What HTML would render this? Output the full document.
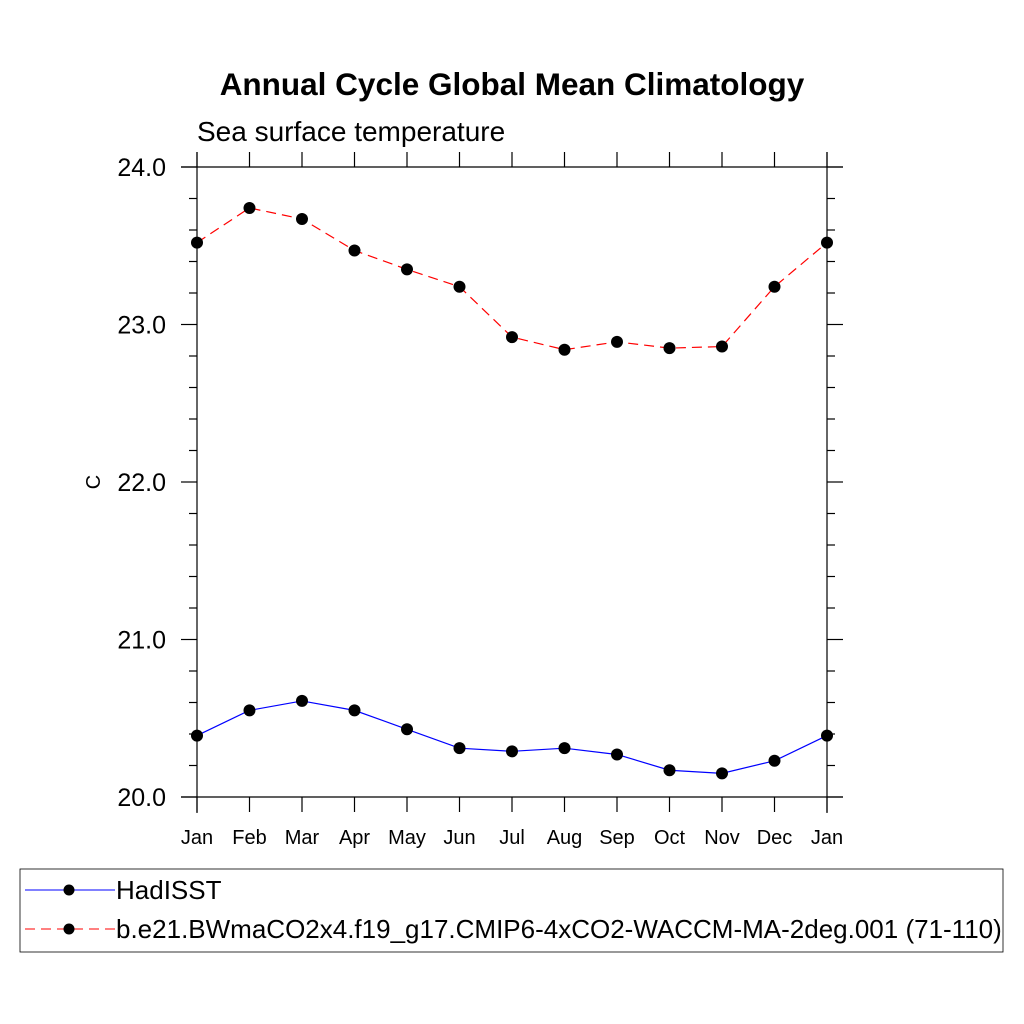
<!DOCTYPE html>
<html><head><meta charset="utf-8"><style>
body{margin:0;background:#fff}
svg{display:block;font-family:"Liberation Sans",sans-serif}
</style></head><body>
<svg id="chart" width="1024" height="1024">
<text x="512" y="95" text-anchor="middle" font-size="31.5" font-weight="bold">Annual Cycle Global Mean Climatology</text>
<text x="197" y="141" font-size="28">Sea surface temperature</text>
<text transform="translate(100,482) rotate(-90)" text-anchor="middle" font-size="20">C</text>
<g id="axes"></g>
<g id="series"></g>
<rect x="20" y="869" width="983" height="83" fill="none" stroke="#000" stroke-width="0.8"/>
<g>
<line x1="25" y1="890" x2="115" y2="890" stroke="#00f" stroke-width="1"/>
<circle cx="69" cy="890" r="5.5" fill="#000"/>
<text x="116" y="899" font-size="26">HadISST</text></g>
<g>
<line x1="25" y1="929" x2="115" y2="929" stroke="#f00" stroke-width="1" stroke-dasharray="10,6"/>
<circle cx="69" cy="929" r="5.5" fill="#000"/>
<text x="116" y="938" font-size="26">b.e21.BWmaCO2x4.f19_g17.CMIP6-4xCO2-WACCM-MA-2deg.001 (71-110)</text></g>
</svg>
<script>
const months=["Jan","Feb","Mar","Apr","May","Jun","Jul","Aug","Sep","Oct","Nov","Dec","Jan"];
const hadisst=[20.39,20.55,20.61,20.55,20.43,20.31,20.29,20.31,20.27,20.17,20.15,20.23,20.39];
const model=[23.52,23.74,23.67,23.47,23.35,23.24,22.92,22.84,22.89,22.85,22.86,23.24,23.52];
const yTicks=[20.0,21.0,22.0,23.0,24.0];
const X0=197,X1=827,Y0=797,Y1=167,YMIN=20,YMAX=24;
const xs=i=>X0+(X1-X0)*i/(months.length-1);
const ys=v=>Y0-(v-YMIN)/(YMAX-YMIN)*(Y0-Y1);
const NS="http://www.w3.org/2000/svg";
function mk(t,a,p){const e=document.createElementNS(NS,t);for(const k in a)e.setAttribute(k,a[k]);p.appendChild(e);return e;}
const ax=document.getElementById('axes');
const st={stroke:"#000","stroke-width":1.2};
mk('line',{x1:181,y1:Y1,x2:843,y2:Y1,...st},ax);
mk('line',{x1:181,y1:Y0,x2:843,y2:Y0,...st},ax);
mk('line',{x1:X0,y1:152,x2:X0,y2:813,...st},ax);
mk('line',{x1:X1,y1:152,x2:X1,y2:813,...st},ax);
for(let v=YMIN;v<=YMAX+1e-9;v+=0.2){
  const y=ys(v);const major=Math.abs(v-Math.round(v))<1e-6;const L=major?16:8;
  mk('line',{x1:X0-L,y1:y,x2:X0,y2:y,...st},ax);
  mk('line',{x1:X1,y1:y,x2:X1+L,y2:y,...st},ax);
}
yTicks.forEach(v=>{const t=mk('text',{x:166,y:ys(v)+9,"text-anchor":"end","font-size":25},ax);t.textContent=v.toFixed(1);

});
months.forEach((m,i)=>{const x=xs(i);
  mk('line',{x1:x,y1:Y1-15,x2:x,y2:Y1,...st},ax);
  mk('line',{x1:x,y1:Y0,x2:x,y2:Y0+15,...st},ax);
  const t=mk('text',{x:x,y:844,"text-anchor":"middle","font-size":20},ax);t.textContent=m;
  
  });
const sg=document.getElementById('series');
function draw(vals,color,dash,name){
  const pts=vals.map((v,i)=>xs(i)+","+ys(v)).join(" ");
  const pl=mk('polyline',{points:pts,fill:"none",stroke:color,"stroke-width":1.2,"stroke-dasharray":dash},sg);
  
  
  vals.forEach((v,i)=>{const c=mk('circle',{cx:xs(i),cy:ys(v),r:6,fill:"#000"},sg);
    
    });
}
draw(hadisst,"#00f","none","hadisst");
draw(model,"#f00","10,6","model");
</script>
</body></html>
